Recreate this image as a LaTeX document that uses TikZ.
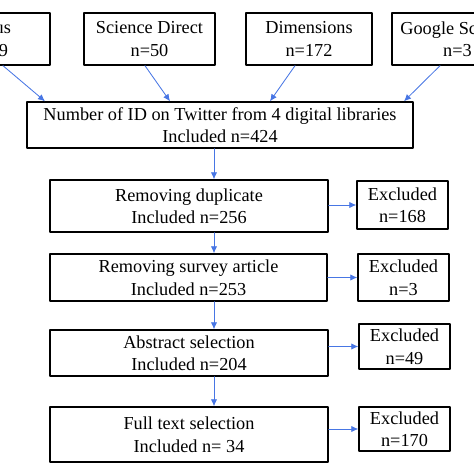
\documentclass[tikz,border=0pt]{standalone}
\usepackage{fontspec}
\setmainfont{Liberation Serif}
\usetikzlibrary{arrows.meta}
\definecolor{arrowblue}{RGB}{72,118,228}
\begin{document}
\begin{tikzpicture}[x=0.025cm, y=-0.025cm, font=\fontsize{13}{16}\selectfont, line join=round, line cap=round,
	box/.style={draw, line width=1pt, align=center, inner sep=1pt},
	flow/.style={draw=arrowblue, line width=0.6pt, -{Latex[length=5pt,width=4.5pt]}}]
	\def\px{0.025cm}
	\useasboundingbox (0,0) rectangle (474,474);
	\begin{scope}
		\clip (0,0) rectangle (474,474);
		% libraries
		\node[box, minimum width=131*\px, minimum height=52*\px] (scopus) at (-15.5,39) {Scopus\\n=199};
		\node[box, minimum width=131*\px, minimum height=52*\px] (sd) at (149.5,39) {Science Direct\\n=50};
		\node[box, minimum width=126*\px, minimum height=52*\px] (dim) at (309,39) {Dimensions\\n=172};
		\node[box, minimum width=131*\px, minimum height=52*\px] (gs) at (457.5,39) {Google Scholar\\n=3};
		\node[box, minimum width=386*\px, minimum height=46*\px] (main) at (220,125) {Number of ID on Twitter from 4 digital libraries\\Included n=424};
		\draw[flow] ([xshift=18.5*\px]scopus.south) -- ([xshift=-175*\px]main.north);
		\draw[flow] ([xshift=-4.5*\px]sd.south) -- ([xshift=-50*\px]main.north);
		\draw[flow] ([xshift=-14*\px]dim.south) -- ([xshift=50*\px]main.north);
		\draw[flow] ([xshift=-17.5*\px]gs.south) -- ([xshift=184*\px]main.north);
	\end{scope}
	% screening
	\node[box, minimum width=278*\px, minimum height=52*\px] (dup) at (189,206) {Removing duplicate\\Included n=256};
	\node[box, minimum width=277*\px, minimum height=47*\px] (survey) at (188.5,277.5) {Removing survey article\\Included n=253};
	\node[box, minimum width=278*\px, minimum height=46*\px] (abs) at (189,353) {Abstract selection\\Included n=204};
	\node[box, minimum width=278*\px, minimum height=55*\px] (full) at (189,434.5) {Full text selection\\Included n= 34};
	% excluded
	\node[box, minimum width=91*\px, minimum height=48*\px] (ex1) at (402.5,205) {Excluded\\n=168};
	\node[box, minimum width=91*\px, minimum height=47*\px] (ex2) at (403.5,277.5) {Excluded\\n=3};
	\node[box, minimum width=91*\px, minimum height=45*\px] (ex3) at (404.5,346.5) {Excluded\\n=49};
	\node[box, minimum width=91*\px, minimum height=44*\px] (ex4) at (404.5,429) {Excluded\\n=170};
	\coordinate (spine) at (214,0);
	\draw[flow] (main.south -| spine) -- (dup.north -| spine);
	\draw[flow] (dup.south -| spine) -- (survey.north -| spine);
	\draw[flow] (survey.south -| spine) -- (abs.north -| spine);
	\draw[flow] (abs.south -| spine) -- (full.north -| spine);
	\draw[flow] (dup.east |- ex1.west) -- (ex1.west);
	\draw[flow] (survey.east |- ex2.west) -- (ex2.west);
	\draw[flow] (abs.east |- ex3.west) -- (ex3.west);
	\draw[flow] (full.east |- ex4.west) -- (ex4.west);
\end{tikzpicture}
\end{document}
